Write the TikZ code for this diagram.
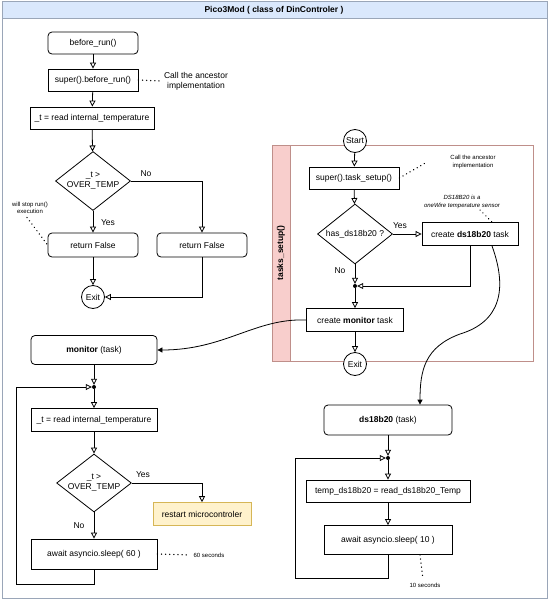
\documentclass[tikz,border=0pt]{standalone}
\usepackage{fontspec}
\setmainfont{Liberation Sans}
\usetikzlibrary{arrows.meta, shapes.geometric}

\definecolor{framegray}{HTML}{9AA6B8}
\definecolor{titleblue}{HTML}{DAE8FC}
\definecolor{poolred}{HTML}{BF8F8A}
\definecolor{poolpink}{HTML}{F8CECC}
\definecolor{noteyellow}{HTML}{FFF2CC}
\definecolor{noteborder}{HTML}{D6B656}

\tikzset{
  every node/.style={font=\fontsize{8.5}{10}\selectfont},
  box/.style={draw, line width=0.8pt, minimum height=22pt, inner sep=2pt},
  rbox/.style={box, rounded corners=4pt},
  decision/.style={draw, diamond, aspect=1.3, inner sep=0pt, line width=0.8pt, align=center, minimum width=75pt, minimum height=59pt},
  terminal/.style={draw, circle, inner sep=1pt, minimum size=23pt, line width=0.8pt},
  flow/.style={line width=0.8pt, -{Triangle[open, length=6pt, width=6pt]}},
  link/.style={line width=0.8pt, -{Triangle[length=5pt, width=5pt]}},
  note/.style={dash pattern=on 0.1pt off 4pt, line width=1.4pt, line cap=round},
  small/.style={font=\fontsize{6}{7.5}\selectfont, align=center},
  junction/.style={circle, fill, inner sep=0pt, minimum size=4pt},
}

\begin{document}
\begin{tikzpicture}[x=1pt, y=-1pt]
\useasboundingbox (0,0) rectangle (549,600);

% class frame
\draw[framegray, fill=titleblue] (2,1) rectangle (547,18);
\draw[framegray, line width=0.8pt] (2,1) rectangle (547,598);
\node[font=\bfseries\fontsize{8.5}{10}\selectfont] (title) at (274,10) {Pico3Mod ( class of DinControler )};

% before_run()
\node[rbox, minimum width=90pt] (before) at (93,43) {before\_run()};
\node[box, minimum width=90pt] (superrun) at (93,80) {super().before\_run()};
\node[box, minimum width=124pt] (readT) at (92,118) {\_t = read internal\_temperature};
\node[decision] (over1) at (93,181) {\_t >\\OVER\_TEMP};
\node[rbox, minimum width=90pt, minimum height=24pt] (retF1) at (93,245) {return False};
\node[rbox, minimum width=90pt, minimum height=24pt] (retF2) at (202,245) {return False};
\node[terminal] (exit1) at (93,297) {Exit};

\node[align=center] (ancestorA) at (196,81) {Call the ancestor\\implementation};
\node[small] (stopnote) at (30,208) {will stop run()\\execution};

\draw[flow] (before) -- (superrun);
\draw[flow] (superrun) -- (readT);
\draw[flow] (readT) -- (over1);
\draw[flow] (over1.south) -- (retF1.north);
\draw[flow] (over1.east) -| (retF2.north);
\draw[flow] (retF1) -- (exit1);
\draw[flow] (retF2.south) |- (exit1.east);
\draw[note] (superrun.east) -- (ancestorA.west);
\draw[note] ([xshift=-3pt]stopnote.south) -- (retF1.west);
\node at (146,174) {No};
\node at (108,223) {Yes};

% tasks_setup()
\draw[poolred, line width=0.6pt] (272,145) rectangle (533,361);
\draw[poolred, line width=0.6pt, fill=poolpink] (272,145) rectangle (290,361);
\node[rotate=90, font=\bfseries\fontsize{8.5}{10}\selectfont] (poollabel) at (281,253) {tasks\_setup()};

\node[terminal, fill=white] (start) at (355,141) {Start};
\node[box, minimum width=90pt] (superTask) at (354,178) {super().task\_setup()};
\node[decision, minimum height=60pt] (hasDs) at (355,234) {has\_ds18b20 ?};
\node[box, minimum width=96pt, minimum height=23pt] (createDs) at (470,234) {create \textbf{ds18b20} task};
\node[junction] (j1) at (355,286) {};
\node[box, minimum width=97pt, minimum height=23pt] (createMon) at (355,320) {create \textbf{monitor} task};
\node[terminal, fill=white] (exit2) at (355,364) {Exit};

\node[small] (ancestorB) at (473,162) {Call the ancestor\\implementation};
\node[small, font=\itshape\fontsize{6}{7.5}\selectfont] (dsnote) at (462,202) {DS18B20 is a\\oneWire temperature sensor};

\draw[flow] (start) -- (superTask);
\draw[flow] (superTask) -- (hasDs);
\draw[flow] (hasDs.east) -- (createDs.west);
\draw[flow] (hasDs.south) -- (j1);
\draw[flow] (createDs.south) |- (j1);
\draw[flow] (j1) -- (createMon);
\draw[flow] (createMon) -- (exit2);
\draw[note] (superTask.east) -- (427,162);
\draw[note] (480,210) -- ([xshift=22pt]createDs.north);
\node at (400,226) {Yes};
\node at (340,271) {No};

% monitor (task)
\node[rbox, minimum width=126pt, minimum height=29pt] (monTask) at (94,350) {\textbf{monitor} (task)};
\node[junction] (j2) at (94,387) {};
\node[box, minimum width=126pt, minimum height=23pt] (readT2) at (94,420) {\_t = read internal\_temperature};
\node[decision, minimum width=74pt, minimum height=58pt] (over2) at (94,483) {\_t >\\OVER\_TEMP};
\node[box, draw=noteborder, fill=noteyellow, line width=0.6pt, minimum width=98pt, minimum height=23pt] (restart) at (202,514) {restart microcontroler};
\node[box, minimum width=126pt, minimum height=30pt] (sleep60) at (94,554) {await asyncio.sleep( 60 )};
\node[small] (sec60) at (209,555) {60 seconds};
\coordinate (loopL) at (16,387);

\draw[link] (createMon.west) .. controls (255,318) and (225,350) .. (monTask.east);
\draw[flow] (monTask) -- (j2);
\draw[flow] (j2) -- (readT2);
\draw[flow] (readT2) -- (over2);
\draw[flow] (over2.east) -| (restart.north);
\draw[flow] (over2.south) -- (sleep60.north);
\draw[flow] (sleep60.south) -- ++(0,15) -| (loopL) -- (j2);
\draw[note] (sleep60.east) -- (sec60.west);
\node at (143,475) {Yes};
\node at (79,526) {No};

% ds18b20 (task)
\node[rbox, minimum width=128pt, minimum height=30pt] (dsTask) at (388,420) {\textbf{ds18b20} (task)};
\node[junction] (j3) at (388,458) {};
\node[box, minimum width=164pt] (readDs) at (388,491) {temp\_ds18b20 = read\_ds18b20\_Temp};
\node[box, minimum width=128pt, minimum height=29pt] (sleep10) at (388,540) {await asyncio.sleep( 10 )};
\node[small] (sec10) at (425,585) {10 seconds};
\coordinate (loopR) at (295,458);

\draw[link] ([xshift=22pt]createDs.south) .. controls (508,290) and (500,322) .. (460,334)
  .. controls (425,347) and (420,370) .. ([xshift=32pt]dsTask.north);
\draw[flow] (dsTask) -- (j3);
\draw[flow] (j3) -- (readDs);
\draw[flow] (readDs) -- (sleep10);
\draw[flow] (sleep10.south) -- ++(0,23) -| (loopR) -- (j3);
\draw[note] ([xshift=32pt]sleep10.south) -- ([xshift=-2pt]sec10.north);
\end{tikzpicture}
\end{document}
